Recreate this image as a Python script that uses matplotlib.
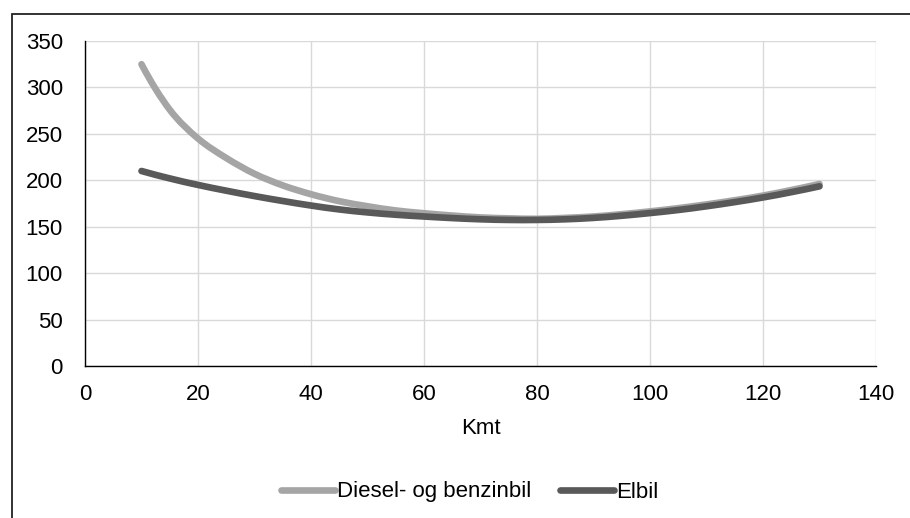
import matplotlib
matplotlib.use("Agg")
import matplotlib.pyplot as plt
from matplotlib.path import Path
from matplotlib.patches import PathPatch, Rectangle
from matplotlib.lines import Line2D

plt.rcParams['font.family'] = ['Liberation Sans', 'DejaVu Sans']

kmt = [10, 15, 20, 25, 30, 35, 40, 45, 50, 55, 60, 65, 70,
       75, 80, 85, 90, 95, 100, 105, 110, 115, 120, 125, 130]
diesel = [325, 276, 245, 224, 207, 194.5, 185, 177.5, 172, 167.5, 164.5, 162, 160,
          159, 158.5, 159.5, 161, 163.5, 166.5, 170, 174, 178.5, 183.5, 189.5, 196]
elbil = [210, 202, 195, 188.8, 183, 177.7, 172.8, 168.6, 165.4, 162.9, 161, 159.3, 158,
         157.3, 157.3, 158, 159.5, 161.8, 164.7, 168, 172, 176.5, 181.5, 187.2, 193.5]
series_names = ["Diesel- og benzinbil", "Elbil"]
colors = ["#a5a5a5", "#595959"]
x_ticks = [0, 20, 40, 60, 80, 100, 120, 140]
y_ticks = [0, 50, 100, 150, 200, 250, 300, 350]
x_label = "Kmt"

DPI = 100
FS = 16
fig = plt.figure(figsize=(9.10, 5.18), dpi=DPI)
ax = fig.add_axes([85/910, (518-366)/518, (876-85)/910, (366-41)/518])


def smooth_path(xs, ys):
    pts = list(zip(xs, ys))
    n = len(pts)
    # Catmull-Rom tangents, with quadratic end conditions
    tans = [None] * n
    for i in range(1, n - 1):
        tans[i] = ((pts[i + 1][0] - pts[i - 1][0]) / 2, (pts[i + 1][1] - pts[i - 1][1]) / 2)
    tans[0] = (2 * (pts[1][0] - pts[0][0]) - tans[1][0],
               2 * (pts[1][1] - pts[0][1]) - tans[1][1])
    tans[-1] = (2 * (pts[-1][0] - pts[-2][0]) - tans[-2][0],
                2 * (pts[-1][1] - pts[-2][1]) - tans[-2][1])
    verts = [pts[0]]
    codes = [Path.MOVETO]
    for i in range(n - 1):
        p1, p2 = pts[i], pts[i + 1]
        m1, m2 = tans[i], tans[i + 1]
        c1 = (p1[0] + m1[0] / 3, p1[1] + m1[1] / 3)
        c2 = (p2[0] - m2[0] / 3, p2[1] - m2[1] / 3)
        verts += [c1, c2, p2]
        codes += [Path.CURVE4] * 3
    return Path(verts, codes)


lw = 4.8
for ys, c, z in [(diesel, colors[0], 3), (elbil, colors[1], 4)]:
    patch = PathPatch(smooth_path(kmt, ys), facecolor='none', edgecolor=c,
                      lw=lw, capstyle='round', joinstyle='round', zorder=z,
                      transform=ax.transData)
    ax.add_patch(patch)

ax.set_xlim(0, 140)
ax.set_ylim(0, 350)
ax.set_xticks(x_ticks)
ax.set_yticks(y_ticks)
ax.grid(True, color="#d9d9d9", lw=1.0)
ax.set_axisbelow(True)
for s in ['top', 'right']:
    ax.spines[s].set_visible(False)
for s in ['left', 'bottom']:
    ax.spines[s].set_color('black')
    ax.spines[s].set_linewidth(1.0)
    ax.spines[s].set_zorder(2)
ax.tick_params(axis='both', length=0, labelsize=FS, colors='black')
ax.tick_params(axis='y', pad=16)
ax.tick_params(axis='x', pad=13)
ax.set_xlabel(x_label, fontsize=FS, labelpad=9)

handles = [Line2D([], [], color=c, lw=lw, solid_capstyle='round') for c in colors]
fig.legend(handles, series_names, loc='center', bbox_to_anchor=(470/910, 1 - 492/518),
           ncol=2, frameon=False, fontsize=FS, handlelength=2.4,
           handletextpad=0.12, columnspacing=1.3)

fig.add_artist(Rectangle((12/910, -0.05), 1.0, 1 - 14/518 + 0.05,
                         transform=fig.transFigure, fill=False,
                         edgecolor='#222222', lw=1.3))

fig.savefig("out.png", dpi=DPI)
